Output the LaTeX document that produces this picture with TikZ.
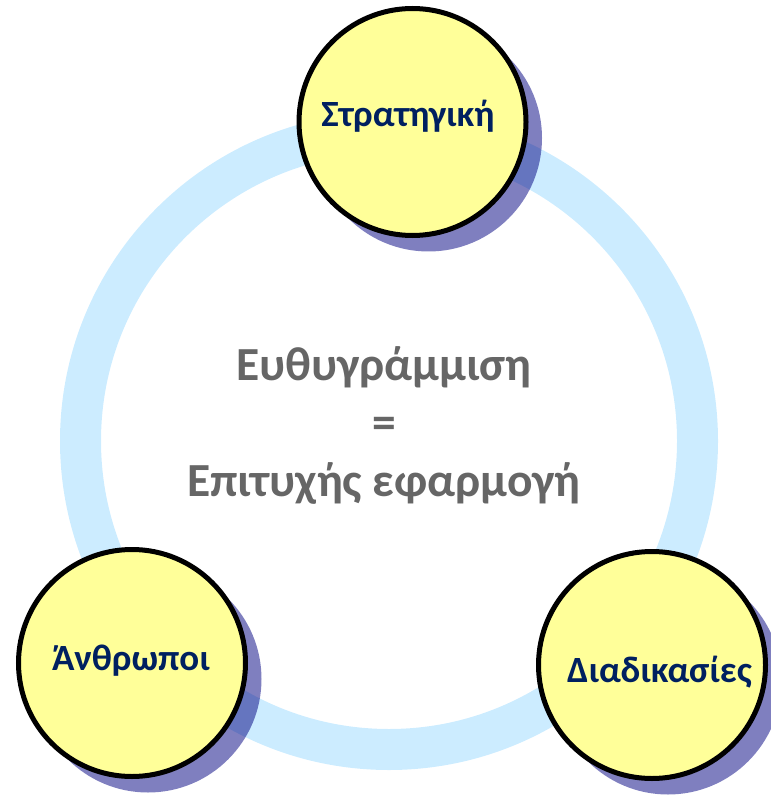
\documentclass[tikz,border=0pt]{standalone}
\usepackage{fontspec}
\setmainfont{Carlito}
\usetikzlibrary{shadows}
\definecolor{ringblue}{HTML}{CCECFF}
\definecolor{pale}{HTML}{FFFF99}
\definecolor{deepnavy}{HTML}{002060}
\definecolor{shadenavy}{HTML}{000080}
\definecolor{midgray}{HTML}{666666}
\begin{document}
\begin{tikzpicture}[x=1pt,y=-1pt,
  pillar/.style={circle, draw=black, line width=5pt, fill=pale, minimum size=227pt, inner sep=0pt,
    drop shadow={shadow xshift=16pt, shadow yshift=-16pt, fill=shadenavy, opacity=0.5}},
  pillartext/.style={anchor=base, text=deepnavy, font=\fontsize{37}{44}\selectfont\bfseries},
  core/.style={align=center, text=midgray, font=\fontsize{47.5}{58}\selectfont\bfseries}]
  \useasboundingbox (0,0) rectangle (770,799);
  % the loop joining the three pillars
  \draw[ringblue, line width=41pt] (389,441) circle[radius=308.5];
  % pillars
  \node[pillar] (strategy) at (412.5,122) {};
  \node[pillar] (people) at (132,663) {};
  \node[pillar] (process) at (652,665) {};
  \node[pillartext] (strategyt) at (408,127) {Στρατηγική};
  \node[pillartext] (peoplet) at (131,670) {Άνθρωποι};
  \node[pillartext] (processt) at (659.5,682) {Διαδικασίες};
  % central statement
  \node[core] (centre) at (384,425) {Ευθυγράμμιση\\=\\Επιτυχής εφαρμογή};
\end{tikzpicture}
\end{document}
